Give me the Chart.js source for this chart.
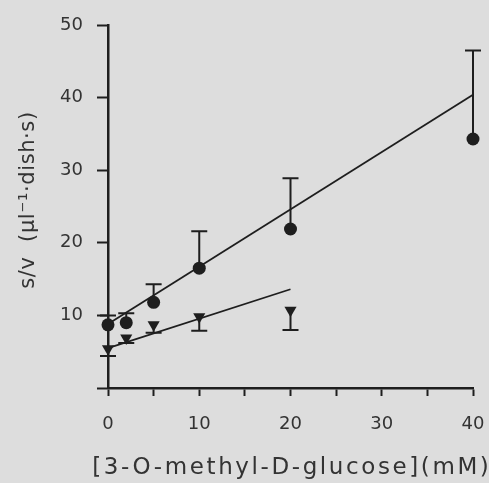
<!DOCTYPE html>
<html>
<head>
<meta charset="utf-8">
<script src="https://cdn.jsdelivr.net/npm/chart.js@4/dist/chart.umd.min.js"></script>
<style>
  html, body { margin: 0; padding: 0; background: #dddddd; }
  canvas { display: block; }
</style>
</head>
<body>
<canvas id="c" width="489" height="483"></canvas>
<script>
// Concentrations (mM) and s/v values for the two series
const concentrations = [0, 2, 5, 10, 20, 40];
const circleMeans = [8.7, 9.0, 11.8, 16.5, 21.9, 34.3];
const circleErrUp = [1.3, 1.3, 2.5, 5.1, 7.0, 12.2];

const triConcentrations = [0, 2, 5, 10, 20];
const triMeans = [5.4, 6.9, 8.7, 9.8, 10.7];
const triErrDown = [1.0, 0.7, 1.1, 1.9, 2.7];

// Fitted lines (end points)
const circleFitX = [0, 40];
const circleFitY = [8.8, 40.4];
const triFitX = [0, 20];
const triFitY = [5.5, 13.6];

// Tick labels and titles
const xTickLabels = [0, 10, 20, 30, 40];
const yTickLabels = [10, 20, 30, 40, 50];
const xTitle = '[3-O-methyl-D-glucose](mM)';
const yTitle = 's/v  (µl⁻¹·dish·s)';

const ink = '#1e1e1e';
const textInk = '#333333';
const paper = '#dddddd';
const family = '"DejaVu Sans", sans-serif';

const pts = (xs, ys) => xs.map((v, i) => ({ x: v, y: ys[i] }));

const paperFill = {
  id: 'paperFill',
  beforeDraw(chart) {
    const { ctx, width, height } = chart;
    ctx.save();
    ctx.fillStyle = paper;
    ctx.fillRect(0, 0, width, height);
    ctx.restore();
  }
};

const errorBars = {
  id: 'errorBars',
  beforeDatasetsDraw(chart) {
    const { ctx, scales: { x, y } } = chart;
    const cap = 8;
    ctx.save();
    ctx.strokeStyle = ink;
    ctx.lineWidth = 2;
    const draw = (xs, means, errs, dir) => {
      xs.forEach((v, i) => {
        const px = x.getPixelForValue(v);
        const p0 = y.getPixelForValue(means[i]);
        const p1 = y.getPixelForValue(means[i] + dir * errs[i]);
        ctx.beginPath();
        ctx.moveTo(px, p0);
        ctx.lineTo(px, p1);
        ctx.moveTo(px - cap, p1);
        ctx.lineTo(px + cap, p1);
        ctx.stroke();
      });
    };
    draw(concentrations, circleMeans, circleErrUp, 1);
    draw(triConcentrations, triMeans, triErrDown, -1);
    ctx.restore();
  }
};

const axisTitles = {
  id: 'axisTitles',
  afterDraw(chart) {
    const { ctx, chartArea } = chart;
    ctx.save();
    ctx.fillStyle = textInk;
    ctx.textAlign = 'center';
    ctx.textBaseline = 'middle';
    ctx.font = '23px ' + family;
    ctx.letterSpacing = '2.6px';
    const cx = (chartArea.left + chartArea.right) / 2;
    ctx.fillText(xTitle, cx + 1.3, 468);
    ctx.font = '21px ' + family;
    ctx.letterSpacing = '0.6px';
    ctx.translate(29, 200);
    ctx.rotate(-Math.PI / 2);
    ctx.fillText(yTitle, 0, 0);
    ctx.restore();
  }
};

new Chart(document.getElementById('c'), {
  type: 'scatter',
  data: {
    datasets: [
      {
        type: 'line',
        data: pts(circleFitX, circleFitY),
        borderColor: ink,
        borderWidth: 1.8,
        pointRadius: 0,
        fill: false,
        clip: false,
        order: 3
      },
      {
        type: 'line',
        data: pts(triFitX, triFitY),
        borderColor: ink,
        borderWidth: 1.8,
        pointRadius: 0,
        fill: false,
        clip: false,
        order: 3
      },
      {
        data: pts(concentrations, circleMeans),
        pointStyle: 'circle',
        pointRadius: 6.5,
        backgroundColor: ink,
        borderWidth: 0,
        clip: false,
        order: 1
      },
      {
        data: pts(triConcentrations, triMeans),
        pointStyle: 'triangle',
        rotation: 180,
        pointRadius: 7,
        backgroundColor: ink,
        borderWidth: 0,
        clip: false,
        order: 1
      }
    ]
  },
  options: {
    responsive: false,
    animation: false,
    events: [],
    layout: { padding: { top: 25, right: 16, left: 0, bottom: 0 } },
    plugins: { legend: { display: false }, tooltip: { enabled: false } },
    scales: {
      x: {
        type: 'linear',
        min: 0,
        max: 40,
        ticks: {
          stepSize: 5,
          autoSkip: false,
          maxRotation: 0,
          padding: 18,
          color: textInk,
          font: { family: family, size: 18 },
          callback: v => (xTickLabels.includes(v) ? String(v) : '')
        },
        grid: { drawOnChartArea: false, tickLength: 8, tickColor: ink, tickWidth: 2 },
        border: { color: ink, width: 2.5 },
        afterFit: s => { s.height = 95; s.paddingLeft = 0; s.paddingRight = 0; }
      },
      y: {
        type: 'linear',
        min: 0,
        max: 50,
        ticks: {
          stepSize: 10,
          autoSkip: false,
          padding: 14,
          color: textInk,
          font: { family: family, size: 18 },
          callback: v => (yTickLabels.includes(v) ? String(v) : '')
        },
        grid: { drawOnChartArea: false, tickLength: 11, tickColor: ink, tickWidth: 2 },
        border: { color: ink, width: 2.5 },
        afterFit: s => { s.width = 108; s.paddingTop = 0; s.paddingBottom = 0; }
      }
    }
  },
  plugins: [paperFill, errorBars, axisTitles]
});
</script>
</body>
</html>
